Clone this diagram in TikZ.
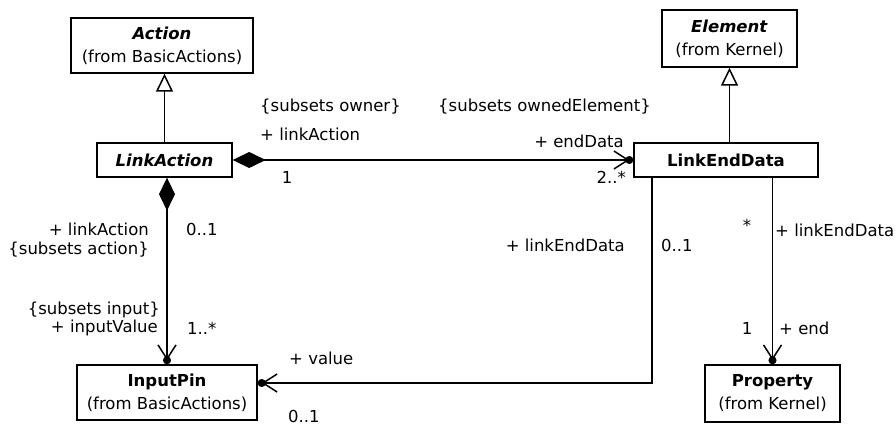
\documentclass[tikz,border=0pt]{standalone}
\usepackage{fontspec}
\setmainfont{DejaVu Sans}
\usetikzlibrary{arrows.meta}

\begin{document}
\begin{tikzpicture}[
            x=1pt, y=-1pt,
            font=\fontsize{16.5}{23}\selectfont,
            umlclass/.style={draw, line width=1.4pt, align=center, inner sep=0pt, font=\fontsize{16.5}{23}\selectfont},
            role/.style={inner sep=0pt},
            gen/.style={line width=1.5pt, -{Triangle[open,length=18pt,width=17pt]}},
            comp/.style={line width=1.5pt, {Diamond[length=33pt,width=16pt]}-{Straight Barb[length=14pt,width=18pt,sep=-4pt]Circle[length=8pt]}},
            navassoc/.style={line width=1.5pt, -{Straight Barb[length=14pt,width=18pt,sep=-4pt]Circle[length=8pt]}}
                           ]
            \useasboundingbox (0,0) rectangle (896,427);

            % 1. The classes
            \node[umlclass, minimum width=182pt, minimum height=55pt] (action) at (162,45.5) {\textbf{\textit{Action}}\\(from BasicActions)};
            \node[umlclass, minimum width=135pt, minimum height=34pt] (linkaction) at (164.5,160) {\textbf{\textit{LinkAction}}};
            \node[umlclass, minimum width=135pt, minimum height=57pt] (element) at (729.5,38.5) {\textbf{\textit{Element}}\\(from Kernel)};
            \node[umlclass, minimum width=184pt, minimum height=34pt] (linkenddata) at (726,160) {\textbf{LinkEndData}};
            \node[umlclass, minimum width=180pt, minimum height=55pt] (inputpin) at (167,392.5) {\textbf{InputPin}\\(from BasicActions)};
            \node[umlclass, minimum width=135pt, minimum height=57pt] (property) at (772.5,393.5) {\textbf{Property}\\(from Kernel)};

            % 2. Generalizations
            \draw[gen] (linkaction.north) -- (linkaction.north |- action.south);
            \draw[gen] (linkenddata.north -| element.south) -- (element.south);

            % 3. Compositions
            \draw[comp] (linkaction.east) -- (linkenddata.west);
            \draw[comp] (inputpin.north |- linkaction.south) -- (inputpin.north);

            % 4. Plain associations
            \draw[navassoc] (property.north |- linkenddata.south) -- (property.north);
            \coordinate (valuebend) at (652,383);
            \draw[navassoc] (linkenddata.south -| valuebend) -- (valuebend) -- (valuebend -| inputpin.east);

            % 5. Role names and multiplicities
            \node[role, anchor=west] (ownerset) at (260,107) {\{subsets owner\}};
            \node[role, anchor=west] (ownerrole) at (260,134) {+ linkAction};
            \node[role] (ownermult) at (287,177) {1};
            \node[role, anchor=east] (endset) at (651,107) {\{subsets ownedElement\}};
            \node[role, anchor=east] (endrole) at (624,141) {+ endData};
            \node[role, anchor=east] (endmult) at (626,177) {2..*};

            \node[role, anchor=east] (actionrole) at (149,229) {+ linkAction};
            \node[role, anchor=east] (actionset) at (149,250) {\{subsets action\}};
            \node[role, anchor=west] (actionmult) at (186,229) {0..1};
            \node[role, anchor=east] (inputset) at (160,310) {\{subsets input\}};
            \node[role, anchor=east] (inputrole) at (158,328) {+ inputValue};
            \node[role, anchor=west] (inputmult) at (187,328) {1..*};

            \node[role, anchor=west] (valuerole) at (289,358) {+ value};
            \node[role, anchor=west] (valuemult) at (288,416) {0..1};
            \node[role, anchor=east] (dataroleleft) at (625,245) {+ linkEndData};
            \node[role, anchor=west] (datamultleft) at (661,245) {0..1};

            \node[role] (datamult) at (747,225) {*};
            \node[role, anchor=west] (datarole) at (775,230) {+ linkEndData};
            \node[role] (propmult) at (747,328) {1};
            \node[role, anchor=west] (proprole) at (779,328) {+ end};

        \end{tikzpicture}
\end{document}
